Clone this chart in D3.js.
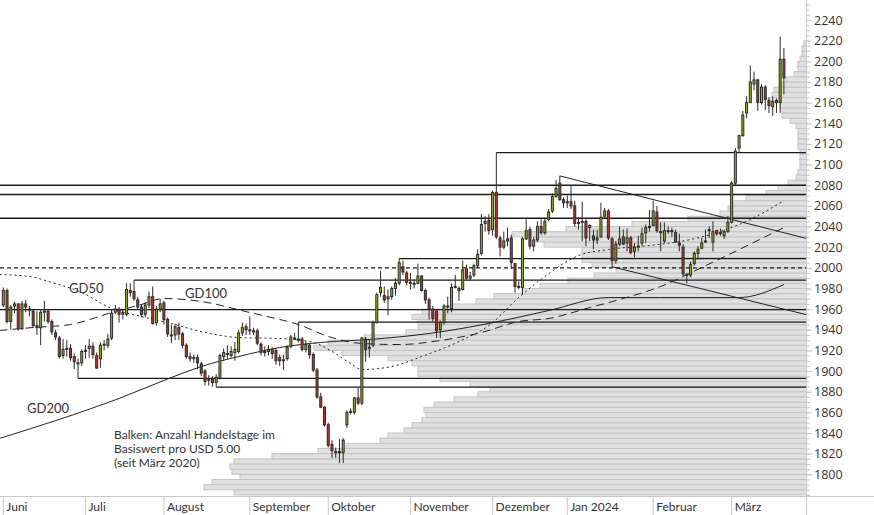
<!DOCTYPE html>
<html><head><meta charset="utf-8">
<script src="https://cdn.jsdelivr.net/npm/d3@7"></script>
<style>body{margin:0;background:#fff;} svg{display:block;font-family:Lato,"Open Sans",sans-serif;}</style>
</head><body><svg id="c" width="874" height="515"></svg>
<script>
// ---------- DATA ----------
const startDate = "2023-06-01", endDate = "2024-03-21";
const holidays = ["2023-12-25"];
const open = [1964,1978,1948,1963,1965,1941,1965,1960,1958,1944,
1942,1957,1958,1948,1937,1932,1915,1921,1922,1914,
1908,1908,1919,1922,1924,1915,1912,1925,1925,1932,
1957,1960,1955,1955,1978,1977,1969,1962,1955,1964,
1972,1947,1960,1966,1950,1935,1935,1942,1936,1925,
1914,1913,1913,1907,1900,1891,1892,1889,1894,1914,
1917,1915,1918,1919,1937,1943,1940,1939,1939,1926,
1918,1919,1921,1920,1913,1910,1912,1924,1932,1931,
1931,1921,1925,1916,1901,1875,1865,1848,1829,1822,
1821,1821,1848,1860,1860,1874,1869,1931,1922,1925,
1947,1976,1973,1970,1972,1980,1985,2001,1995,1985,
1984,1985,1992,1978,1969,1960,1958,1940,1947,1963,
1960,1981,1980,1979,1999,1990,1993,2002,2014,2043,
2046,2037,2073,2029,2020,2026,2029,2004,1982,1981,
2028,2037,2021,2027,2040,2034,2047,2055,2069,2082,
2066,2063,2064,2060,2043,2044,2045,2039,2031,2027,
2030,2050,2055,2028,2007,2023,2030,2024,2029,2016,
2020,2024,2034,2039,2041,2054,2035,2026,2036,2035,
2034,2024,2020,1993,1993,2004,2014,2019,2025,2036,
2025,2036,2033,2031,2035,2044,2082,2116,2128,2150,
2160,2178,2182,2160,2175,2162,2156,2162,2160,2202];
const high = [1981,1980,1964,1967,1966,1968,1969,1963,1960,1958,
1960,1968,1960,1950,1940,1934,1931,1930,1926,1917,
1912,1921,1925,1931,1928,1918,1928,1930,1936,1960,
1964,1962,1960,1985,1985,1988,1972,1965,1967,1977,
1982,1963,1970,1968,1952,1945,1946,1947,1938,1927,
1918,1916,1916,1909,1902,1896,1895,1897,1917,1922,
1925,1924,1928,1940,1947,1946,1953,1942,1941,1928,
1924,1925,1923,1922,1916,1916,1925,1935,1937,1947.5,
1933,1929,1927,1918,1903,1879,1866,1850,1833,1826,
1834,1835,1862,1864,1875,1884,1933,1933,1930,1949,
1976,1997,1982,1979,1982,1990,2009,2007,1997,1995,
1989,2004,1993,1980,1971,1963,1960,1949,1965,1972,
1985,1993,1982,2007,2003,1996,2004,2018,2052,2050,
2052,2075,2111.5,2031,2035,2039,2032,2005,1987,2030,
2047,2040,2030,2045,2047,2048,2057,2072,2085,2089,
2068,2070,2079,2065,2049,2064,2047,2042,2037,2037,
2063,2058,2057,2030,2026,2040,2037,2038,2031,2024,
2031,2039,2042,2056,2065,2060,2044,2044,2040,2039,
2037,2033,2023,1995,2006,2016,2021,2029,2037,2040,
2045,2037,2038,2037,2050,2084,2116,2129,2152,2166,
2196,2190,2183,2178,2177,2165,2166,2164,2224,2213];
const low = [1962,1946,1940,1956,1939,1940,1957,1953,1942,1935,
1925,1948,1946,1935,1930,1912,1912,1914,1910,1902,
1893,1905,1912,1913,1912,1902,1903,1920,1922,1930,
1955,1947,1950,1953,1972,1968,1959,1952,1952,1961,
1945,1944,1957,1945,1933,1927,1930,1930,1922,1912,
1909,1908,1902,1895,1886,1886,1885,1884.5,1892,1910,
1912,1913,1910,1917,1934,1935,1935,1935,1925,1915,
1914,1915,1912,1906,1905,1901,1910,1922,1930,1928,
1919,1918,1912,1899,1873,1864,1846,1826,1816,1816,
1811,1811,1845,1858,1858,1867,1867,1909,1913,1923,
1946,1972,1966,1954,1969,1973,1983,1993,1983,1979,
1980,1984,1977,1965,1950,1948,1932,1932,1945,1956,
1957,1980,1968,1978,1988,1988,1991,2000,2012,2035,
2032,2031,2028,2011,2018,2021,1999,1976,1979,1974,
2027,2018,2016,2025,2032,2032,2045,2053,2068,2065,
2058,2058,2057,2040,2037,2026,2021,2026,2018,2023,
2029,2048,2027,2001,2004,2021,2022,2016,2013,2010,
2016,2021,2024,2035,2040,2034,2016,2024,2033,2030,
2024,2016,1992,1985,1991,2002,2008,2018,2024,2029,
2016,2031,2031,2028,2034,2043,2080,2111,2127,2145,
2160,2172,2152,2158,2153,2150,2147,2150,2150,2168];
const close = [1978,1948,1962,1965,1941,1965,1962,1959,1944,1942,
1957,1958,1948,1938,1933,1914,1921,1922,1913,1909,
1907,1919,1920,1924,1916,1903,1925,1926,1931,1956,
1960,1955,1957,1979,1976,1970,1962,1955,1964,1972,
1946,1960,1965,1950,1936,1934,1943,1936,1925,1914,
1912,1912,1908,1898,1890,1892,1889,1894,1915,1918,
1916,1919,1921,1937,1942,1940,1939,1938,1927,1918,
1919,1921,1917,1910,1910,1911,1923,1933,1931,1930,
1921,1926,1916,1901,1875,1865,1848,1828,1823,1821,
1822,1833,1860,1861,1874,1869,1932,1921,1923,1947,
1974,1981,1969,1972,1980,1985,2005,1996,1986,1986,
1985,1992,1978,1969,1960,1951,1939,1947,1963,1962,
1981,1982,1978,1998,1990,1992,2002,2013,2042,2045,
2036,2073,2030,2020,2026,2028,2005,1982,1981,2028,
2036,2021,2027,2040,2034,2045,2054,2069,2077,2066,
2063,2064,2060,2043,2044,2045,2029,2041,2027,2029,
2049,2055,2029,2007,2023,2028,2023,2029,2015,2020,
2021,2033,2039,2040,2055,2036,2034,2036,2035,2036,
2025,2022,1994,1993,2003,2014,2018,2024,2026,2037,
2035,2033,2034,2035,2044,2082,2113,2128,2148,2160,
2180,2182,2160,2175,2163,2157,2161,2160,2202,2184];

// volume profile: lower bound of 5-USD bin, number of trading days
const profileLow = d3.range(1780, 2220, 5);
const profileDays = [286,301,297,283,287,288,286,267,244,230,
213,209,201,197,192,190,191,186,176,164,
158,168,183,194,194,197,209,232,246,239,
221,200,194,194,197,192,177,165,156,142,
133,119,106,95,107,112,112,112,131,135,
147,120,87,59,43,39,37,30,20,14,
9,5,4,3,3,3,3,4,4,4,
4,5,8,12,12,13,19,17,16,12,
10,6,4,4,3,2,2,1];

// moving averages (trading-day index, value)
const ma50Idx = [-1,7,13,21,29,37,45,53,63,74,83,88,93,96,104,112,122,130,138,145,154,162,173,184,192,200,209];
const ma50Val = [1993.5,1991.6,1985.8,1976.1,1960.6,1952.8,1946.0,1938.3,1932.5,1931.5,1927.7,1919.0,1907.3,1901.5,1904.4,1914.1,1928.6,1944.1,1971.2,1991.6,2011.9,2017.7,2021.6,2027.4,2035.2,2046.8,2065.2];
const ma100Idx = [-1,8,18,29,37,43,53,66,74,79,87,96,106,117,128,138,146,157,165,176,187,197,209];
const ma100Val = [1939.3,1942.2,1945.1,1956.7,1964.5,1970.3,1967.4,1956.7,1950,1945.1,1933.5,1926.7,1925.7,1929.6,1937.3,1948,1950.9,1961.5,1969.3,1981.9,2000.3,2017.7,2039];
const ma200Idx = [-1,15,31,45,53,63,74,85,98,114,130,146,162,176,187,197,209];
const ma200Val = [1834.8,1853.2,1873.5,1893.8,1904.4,1914.1,1922.8,1927.7,1930.6,1936.4,1946.1,1958.6,1971.2,1971.2,1971.2,1971.2,1983.8];

// horizontal levels (start index -1 = from left edge)
const levelVal = [2111.5,2080,2071,2048,2009,2000,1988,1959.6,1947.5,1893,1884.5];
const levelStart = [132,-1,-1,-1,106,-1,35,-1,79,20,57];
const levelDashed = [false,false,false,false,false,true,false,false,false,false,false];

// trend lines: two anchors each, extended to the right edge
const trendIdxA = [149,163], trendValA = [2089,2001];
const trendIdxB = [209,209], trendValB = [2034,1960];

const yTickValues = [1800,1820,1840,1860,1880,1900,1920,1940,1960,1980,2000,2020,2040,2060,2080,2100,2120,2140,2160,2180,2200,2220,2240];
const monthStarts = ["2023-06-01","2023-07-03","2023-08-01","2023-09-01","2023-10-02","2023-11-01","2023-12-01","2024-01-01","2024-02-01","2024-03-01"];
const monthLabels = ["Juni","Juli","August","September","Oktober","November","Dezember","Jan 2024","Februar","März"];
const maLabels = ["GD50","GD100","GD200"];
const noteLines = ["Balken: Anzahl Handelstage im","Basiswert pro USD 5.00","(seit März 2020)"];

// ---------- CHART ----------
const W = 874, H = 515, plotR = 806, plotB = 496;
const svg = d3.select("#c");
const parse = d3.utcParse("%Y-%m-%d"), fmt = d3.utcFormat("%Y-%m-%d");
const dates = d3.utcDay.range(parse(startDate), d3.utcDay.offset(parse(endDate), 1))
  .filter(d => d.getUTCDay() % 6 !== 0 && !holidays.includes(fmt(d))).map(fmt);

const step = 3.735, x0 = 3.3 - step / 2;
const x = d3.scaleBand().domain(dates).range([x0, x0 + step * dates.length]).paddingInner(0.2).paddingOuter(0.1);
const cx = i => x(dates[0]) + x.bandwidth() / 2 + i * x.step();
const y = d3.scaleLinear().domain([1779, 2259.4]).range([plotB, 0]);
const xp = d3.scaleLinear().domain([0, 100]).range([plotR, plotR - 200]);

svg.append("defs").append("clipPath").attr("id", "clip")
  .append("rect").attr("x", 0).attr("y", 0).attr("width", plotR).attr("height", plotB);
const g = svg.append("g").attr("clip-path", "url(#clip)");

// profile bars
g.append("g").selectAll("rect").data(profileLow).join("rect")
  .attr("x", (d, i) => xp(profileDays[i]))
  .attr("y", d => y(d + 5))
  .attr("width", (d, i) => plotR - xp(profileDays[i]) + 2)
  .attr("height", d => y(d) - y(d + 5))
  .attr("fill", "#e0e0e0").attr("stroke", "#c4c4c4").attr("stroke-width", 1);

// moving averages
const maLine = d3.line().x(d => cx(d[0])).y(d => y(d[1])).curve(d3.curveMonotoneX);
const mas = [[ma50Idx, ma50Val, "2,3"], [ma100Idx, ma100Val, "8,5"], [ma200Idx, ma200Val, null]];
mas.forEach(([ix, vv, dash]) => {
  g.append("path").datum(ix.map((d, i) => [d, vv[i]])).attr("d", maLine)
    .attr("fill", "none").attr("stroke", "#222").attr("stroke-width", 1)
    .attr("stroke-dasharray", dash);
});

// levels
levelVal.forEach((v, i) => {
  const xs = levelStart[i] < 0 ? 0 : cx(levelStart[i]);
  g.append("line").attr("x1", xs).attr("x2", plotR).attr("y1", y(v)).attr("y2", y(v))
    .attr("stroke", "#1a1a1a").attr("stroke-width", 1.3)
    .attr("stroke-dasharray", levelDashed[i] ? "4,3" : null);
});

// trend lines
trendIdxA.forEach((ia, k) => {
  const xa = cx(ia), ya = y(trendValA[k]), xb = cx(trendIdxB[k]), yb = y(trendValB[k]);
  const s = (yb - ya) / (xb - xa);
  g.append("line").attr("x1", xa).attr("y1", ya).attr("x2", plotR).attr("y2", ya + s * (plotR - xa))
    .attr("stroke", "#222").attr("stroke-width", 1);
});

// candles
const cg = g.append("g");
dates.forEach((d, i) => {
  const c = cx(i), o = open[i], cl = close[i];
  cg.append("line").attr("x1", c).attr("x2", c).attr("y1", y(high[i])).attr("y2", y(low[i]))
    .attr("stroke", "#2a2a2a").attr("stroke-width", 1);
  const top = y(Math.max(o, cl)), bot = y(Math.min(o, cl));
  if (Math.abs(o - cl) < 0.8) {
    cg.append("rect").attr("x", c - 1.5).attr("width", 3).attr("y", top - 1).attr("height", 2).attr("fill", "#2a2a2a");
  } else {
    cg.append("rect").attr("x", c - 1).attr("width", 2).attr("y", top).attr("height", Math.max(1, bot - top))
      .attr("fill", cl >= o ? "#9cb41e" : "#c0392b").attr("stroke", "#2a2a2a").attr("stroke-width", 1);
  }
});

// axes
const axG = svg.append("g").attr("transform", `translate(${plotR},0)`);
axG.call(d3.axisRight(y).tickValues(d3.range(1780, 2260, 5)).tickSize(4).tickFormat(""))
  .call(a => a.select(".domain").remove())
  .call(a => a.selectAll("line").attr("stroke", "#c8c8c8"));
const axL = svg.append("g").attr("transform", `translate(${plotR},0)`);
axL.call(d3.axisRight(y).tickValues(yTickValues).tickSize(6).tickPadding(2).tickFormat(d3.format("d")))
  .call(a => a.select(".domain").remove())
  .call(a => a.selectAll("line").attr("stroke", "#c8c8c8"))
  .call(a => a.selectAll("text").attr("fill", "#333").style("font-size", "12.5px").style("font-family", "'Open Sans',sans-serif"));
svg.append("line").attr("x1", plotR + 0.5).attr("x2", plotR + 0.5).attr("y1", 0).attr("y2", H).attr("stroke", "#c8c8c8");
svg.append("line").attr("x1", 0).attr("x2", W).attr("y1", plotB + 0.5).attr("y2", plotB + 0.5).attr("stroke", "#c8c8c8");

const bx = svg.append("g").attr("transform", `translate(0,${plotB})`);
bx.call(d3.axisBottom(x).tickValues(monthStarts).tickSize(19).tickFormat((d, i) => monthLabels[i]))
  .call(a => a.select(".domain").remove())
  .call(a => a.selectAll("line").attr("stroke", "#c8c8c8"))
  .call(a => a.selectAll("text").attr("text-anchor", "start").attr("x", 3).attr("y", 6).attr("dy", "0.71em")
    .attr("fill", "#333").style("font-size", "12px").style("font-family", "Lato,sans-serif"));

// labels
const lbl = [[69, 293], [185, 298], [27, 413]];
maLabels.forEach((t, i) => svg.append("text").attr("x", lbl[i][0]).attr("y", lbl[i][1])
  .attr("fill", "#333").style("font-size", "13px").text(t));
noteLines.forEach((t, i) => svg.append("text").attr("x", 114).attr("y", 438.5 + i * 14)
  .attr("fill", "#333").style("font-size", "12px").text(t));
</script></body></html>
